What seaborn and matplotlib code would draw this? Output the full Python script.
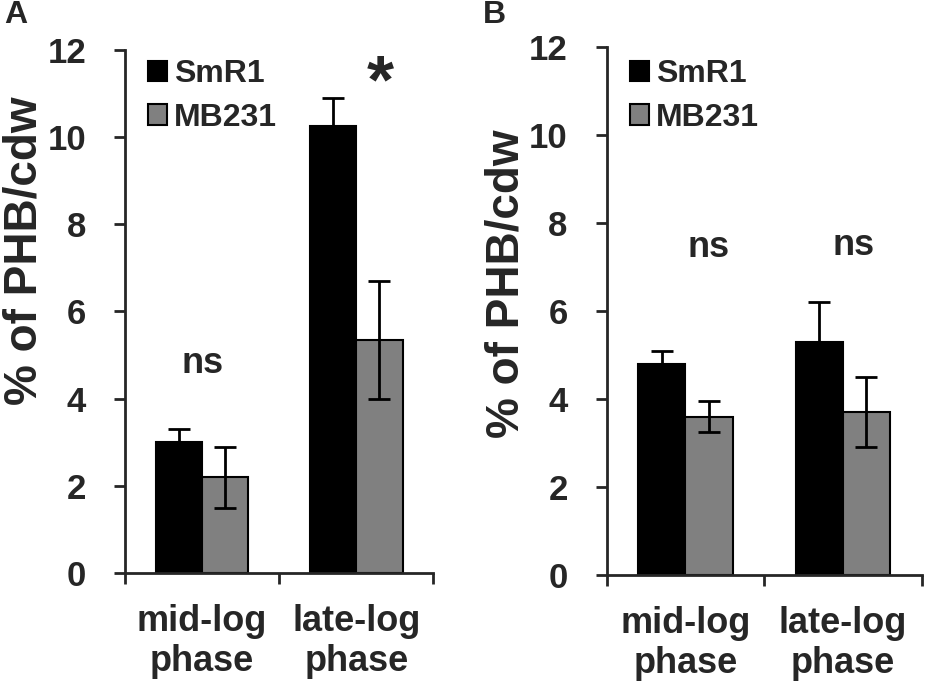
import numpy as np
import pandas as pd
import seaborn as sns
import matplotlib.pyplot as plt

phases = ["mid-log\nphase", "late-log\nphase"]
strains = ["SmR1", "MB231"]

# panel A
a_smr1 = [3.0, 10.25]
a_smr1_err = [0.3, 0.65]
a_mb231 = [2.2, 5.35]
a_mb231_err = [0.7, 1.35]

# panel B
b_smr1 = [4.8, 5.3]
b_smr1_err = [0.3, 0.9]
b_mb231 = [3.6, 3.7]
b_mb231_err = [0.35, 0.8]

sns.set_style("white")
plt.rcParams['font.family'] = ['Liberation Sans', 'DejaVu Sans']
plt.rcParams['font.weight'] = 'bold'


def make_df(smr1, mb231):
    return pd.DataFrame({
        "phase": phases * 2,
        "strain": ["SmR1"] * 2 + ["MB231"] * 2,
        "value": smr1 + mb231,
    })


def panel(ax, df, errs, notes, leg_top):
    sns.barplot(data=df, x="phase", y="value", hue="strain", hue_order=strains,
                palette=["black", "#808080"], edgecolor="black", linewidth=1.5,
                width=0.6, errorbar=None, ax=ax)
    for cont, err in zip(ax.containers, errs):
        xs = [b.get_x() + b.get_width() / 2 for b in cont]
        ys = [b.get_height() for b in cont]
        ax.errorbar(xs, ys, yerr=err, fmt="none", ecolor="black",
                    elinewidth=2, capsize=8, capthick=2)
    ax.set_ylim(0, 12)
    ax.set_xlim(-0.5, 1.5)
    ax.set_yticks(range(0, 13, 2))
    ax.set_xticks([0, 1])
    ax.set_xticklabels(phases, fontsize=26, fontweight="bold")
    ax.set_xticks([-0.5, 0.5, 1.5], minor=True)
    ax.tick_params(axis="x", which="major", length=0, pad=22)
    ax.tick_params(axis="x", which="minor", length=8, width=2, direction="out", bottom=True)
    ax.tick_params(axis="y", length=8, width=2, direction="out", left=True, labelsize=25, pad=20)
    for lab in ax.get_yticklabels():
        lab.set_fontweight("bold")
    ax.set_xlabel("")
    ax.set_ylabel("")
    sns.despine(ax=ax)
    ax.spines["left"].set_linewidth(2)
    ax.spines["bottom"].set_linewidth(2)
    ax.legend(loc="upper left", bbox_to_anchor=(0.075, leg_top), frameon=False,
              borderpad=0, borderaxespad=0,
              handlelength=0.6, handleheight=0.6, handletextpad=0.2,
              labelspacing=0.42, prop={"size": 23, "weight": "bold"})
    for txt, x, y, size in notes:
        ax.text(x, y, txt, ha="center", va="center", fontsize=size, fontweight="bold")


fig = plt.figure(figsize=(9.29, 6.83), dpi=100)
ax1 = fig.add_axes([0.1346, 0.161, 0.332, 0.766])
ax2 = fig.add_axes([0.653, 0.158, 0.339, 0.773])

panel(ax1, make_df(a_smr1, a_mb231), [a_smr1_err, a_mb231_err],
      [("ns", 0.0, 4.8, 26), ("*", 1.156, 11.2, 50)], 0.982)
panel(ax2, make_df(b_smr1, b_mb231), [b_smr1_err, b_mb231_err],
      [("ns", 0.15, 7.45, 26), ("ns", 1.07, 7.5, 26)], 0.977)

fig.text(25 / 929, 1 - 251 / 683, "% of PHB/cdw", rotation=90, ha="center", va="center",
         fontsize=33, fontweight="bold")
fig.text(507 / 929, 1 - 284 / 683, "% of PHB/cdw", rotation=90, ha="center", va="center",
         fontsize=33, fontweight="bold")

fig.text(0.004, 1.0, "A", fontsize=23, fontweight="bold", va="top")
fig.text(0.520, 1.0, "B", fontsize=23, fontweight="bold", va="top")

fig.savefig("out.png", dpi=100)
